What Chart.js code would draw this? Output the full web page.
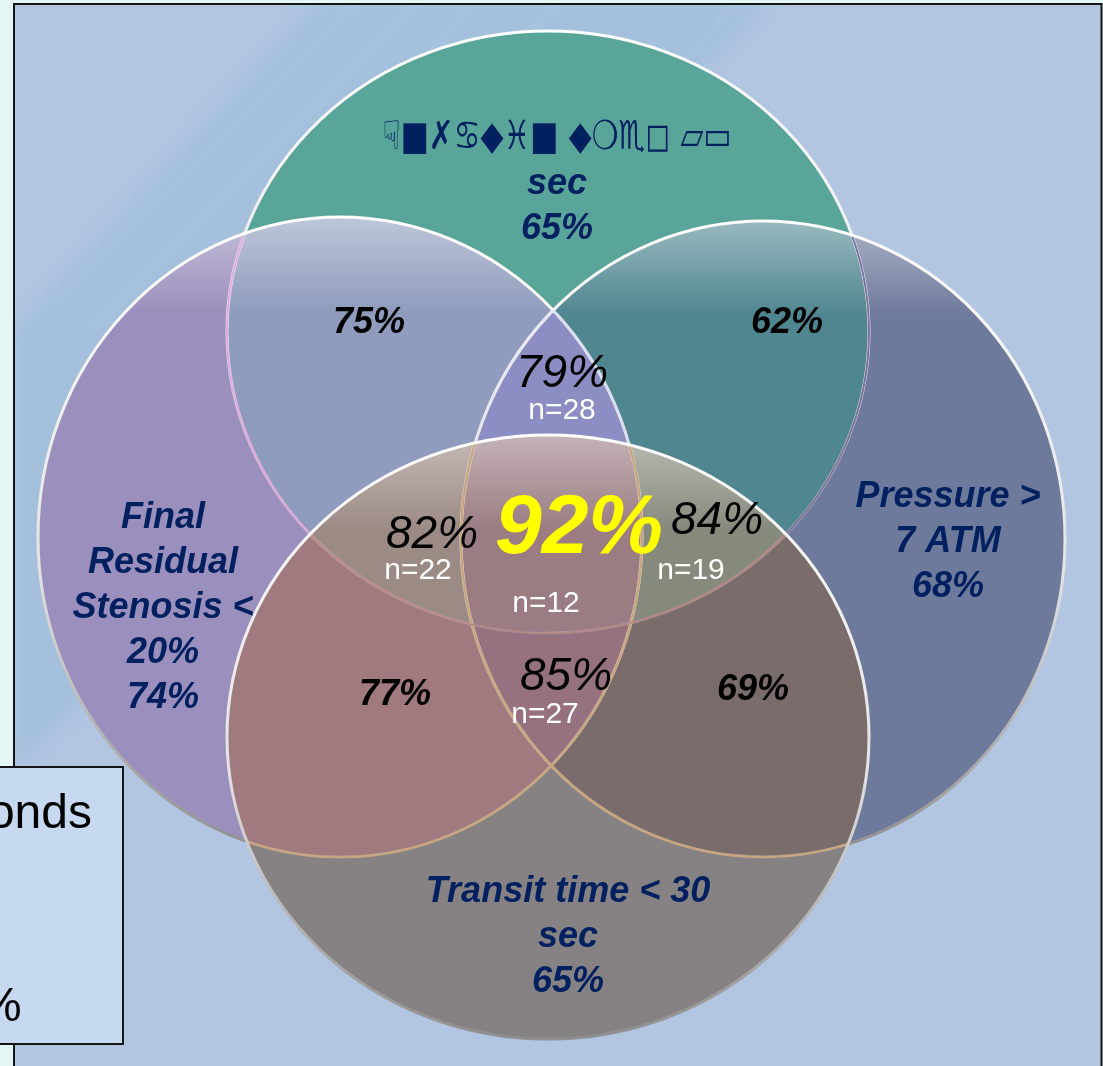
<!DOCTYPE html>
<html>
<head>
<meta charset="utf-8">
<title>Venn - stent criteria</title>
<script src="https://cdn.jsdelivr.net/npm/chart.js@4.4.1/dist/chart.umd.min.js"></script>
<style>
  html, body { margin: 0; padding: 0; background: #e5f6f7; }
  #wrap { position: relative; width: 1103px; height: 1066px; }
</style>
</head>
<body>
<div id="wrap"><canvas id="venn"></canvas></div>
<script>
//-------------------------- Venn data --------------------------//
// order of the sets : top, left, right, bottom
const setTitles = [
	['☟■✗♋◆♓■ ◆❍♏◻ ▱▭', 'sec'],
	['Final', 'Residual', 'Stenosis <', '20%'],
	['Pressure >', '7 ATM'],
	['Transit time < 30', 'sec']
];
const setPct = [65, 74, 68, 65];

// ellipse centres and half axes, in scale units (1 unit = 10 px)
const setCenterX = [54.8, 34.0, 76.3, 54.8];
const setCenterY = [33.2, 53.7, 53.9, 73.7];
const setRadiusX = [32.1, 30.2, 30.2, 32.1];
const setRadiusY = [30.1, 32.0, 31.8, 30.2];

// two-set overlaps : top+left, top+right, left+bottom, right+bottom
const pairPct = [75, 62, 77, 69];
// three-set overlaps : top+left+right, top+left+bottom, top+right+bottom, left+right+bottom
const triplePct = [79, 82, 84, 85];
const tripleN = [28, 22, 19, 27];
// all four
const allPct = 92;
const allN = 12;
//---------------------------------------------------------------//

//------------------------ Label layout -------------------------//
const titleAnchor = [[55.7, 14.9], [16.3, 52.8], [94.8, 50.7], [56.8, 90.2]];
const lineStep = 4.5;
const pairAnchor = [[36.9, 33.3], [78.7, 33.3], [39.5, 70.5], [75.3, 70.0]];
const triplePctAnchor = [[56.2, 38.7], [43.2, 54.8], [71.7, 53.4], [56.6, 69.0]];
const tripleNAnchor = [[56.2, 41.9], [41.8, 57.9], [69.1, 57.9], [54.5, 72.3]];
const allPctAnchor = [57.9, 55.3];
const allNAnchor = [54.6, 61.2];
//---------------------------------------------------------------//

//--------------------------- Styles ----------------------------//
// fill of each region, index = bit mask (1 top, 2 left, 4 right, 8 bottom)
const regionColors = {
	1: '#5aa59a', 2: '#9b90bd', 4: '#6e7a9c', 8: '#868183',
	3: '#8f9cbd', 5: '#4f8690', 6: '#8b8dc3', 7: '#8b8dc3',
	9: '#8a8a84', 10: '#a17a80', 12: '#7b6c6c', 14: '#967280',
	11: '#9c8a85', 13: '#868a7c', 15: '#9a7c82'
};
const SANS = '"Liberation Sans", Arial, sans-serif';
const NAVY = '#002060';
//---------------------------------------------------------------//

function ellipsePath(ctx, s){
	ctx.ellipse(s.x, s.y, s.rx, s.ry, 0, 0, Math.PI * 2);
}

function getShapes(chart){
	const meta = chart.getDatasetMeta(0);
	const xs = chart.scales.x, ys = chart.scales.y;
	return meta.data.map((pt, i) => ({
		x: pt.x,
		y: pt.y,
		rx: Math.abs(xs.getPixelForValue(setCenterX[i] + setRadiusX[i]) - pt.x),
		ry: Math.abs(ys.getPixelForValue(setCenterY[i] + setRadiusY[i]) - pt.y)
	}));
}

function rimGradient(ctx, s){
	const g = ctx.createLinearGradient(0, s.y - s.ry, 0, s.y + s.ry);
	g.addColorStop(0, '#ffffff');
	g.addColorStop(0.55, '#e4e4e4');
	g.addColorStop(1, '#8e8e8e');
	return g;
}

// slide background, frame, brush band and the cut off text box
const backdropPlugin = {
	id: 'backdrop',
	beforeDraw(chart){
		const ctx = chart.ctx;
		const w = chart.width, h = chart.height;
		ctx.save();
		ctx.fillStyle = '#e5f6f7';
		ctx.fillRect(0, 0, w, h);
		ctx.fillStyle = '#b2c6e2';
		ctx.fillRect(13, 3, w - 14, h);

		ctx.beginPath();
		ctx.rect(14, 4, w - 16, h);
		ctx.clip();
		ctx.filter = 'blur(10px)';
		ctx.fillStyle = 'rgba(150,186,214,0.5)';
		ctx.beginPath();
		ctx.moveTo(320, 0);
		ctx.lineTo(770, 0);
		ctx.lineTo(14, 770);
		ctx.lineTo(14, 330);
		ctx.closePath();
		ctx.fill();
		ctx.filter = 'blur(3px)';
		ctx.strokeStyle = 'rgba(205,222,238,0.3)';
		ctx.lineWidth = 3;
		[[360, 0, 60, 300], [420, 0, 90, 330], [470, 10, 150, 330], [560, 0, 200, 370], [740, 0, 640, 110]].forEach(l => {
			ctx.beginPath();
			ctx.moveTo(l[0], l[1]);
			ctx.lineTo(l[2], l[3]);
			ctx.stroke();
		});
		ctx.restore();

		ctx.save();
		ctx.strokeStyle = '#151515';
		ctx.lineWidth = 2;
		ctx.beginPath();
		ctx.moveTo(14, h + 5);
		ctx.lineTo(14, 4);
		ctx.lineTo(w - 1.5, 4);
		ctx.lineTo(w - 1.5, h + 5);
		ctx.stroke();

		ctx.fillStyle = '#c6d9f1';
		ctx.fillRect(-2, 767, 125, 277);
		ctx.strokeRect(-2, 767, 125, 277);
		ctx.fillStyle = '#000';
		ctx.font = '48px ' + SANS;
		ctx.textAlign = 'right';
		ctx.textBaseline = 'alphabetic';
		ctx.fillText('onds', 92, 828);
		ctx.textAlign = 'left';
		ctx.fillText('%', -21, 1021);
		ctx.restore();
	}
};

// ellipses : region fills, glass highlight, rims
const vennPlugin = {
	id: 'venn',
	afterDatasetsDraw(chart){
		const ctx = chart.ctx;
		const w = chart.width, h = chart.height;
		const shapes = getShapes(chart);

		for(let mask = 1; mask < 16; mask++){
			ctx.save();
			shapes.forEach((s, i) => {
				const inside = mask & (1 << i);
				ctx.beginPath();
				if(!inside) ctx.rect(-10, -10, w + 20, h + 20);
				ellipsePath(ctx, s);
				ctx.clip(inside ? 'nonzero' : 'evenodd');
			});
			ctx.fillStyle = regionColors[mask];
			ctx.fillRect(0, 0, w, h);
			ctx.restore();
		}

		// soft light along the top of left, right and bottom shapes
		[1, 2, 3].forEach(i => {
			const s = shapes[i];
			ctx.save();
			ctx.beginPath();
			ellipsePath(ctx, s);
			ctx.clip();
			const g = ctx.createLinearGradient(0, s.y - s.ry, 0, s.y - s.ry + 95);
			g.addColorStop(0, 'rgba(255,255,255,0.42)');
			g.addColorStop(1, 'rgba(255,255,255,0)');
			ctx.fillStyle = g;
			ctx.fillRect(s.x - s.rx, s.y - s.ry, s.rx * 2, 100);
			ctx.restore();
		});

		const T = shapes[0], L = shapes[1], R = shapes[2], B = shapes[3];
		const strokeIn = (s, clipShape, color, width) => {
			ctx.save();
			ctx.beginPath();
			ellipsePath(ctx, clipShape);
			ctx.clip();
			ctx.strokeStyle = color;
			ctx.lineWidth = width;
			ctx.beginPath();
			ellipsePath(ctx, s);
			ctx.stroke();
			ctx.restore();
		};
		const rim = (s) => {
			ctx.save();
			ctx.strokeStyle = rimGradient(ctx, s);
			ctx.lineWidth = 3;
			ctx.beginPath();
			ellipsePath(ctx, s);
			ctx.stroke();
			ctx.restore();
		};

		rim(T);
		strokeIn(T, L, '#e2a9e4', 2);
		strokeIn(T, R, '#7a74a0', 2);
		rim(L);
		rim(R);
		strokeIn(L, R, '#d9dcef', 2);
		strokeIn(R, L, '#e4e6f2', 2);
		strokeIn(L, B, '#caa67e', 2.5);
		strokeIn(R, B, '#caa67e', 2.5);
		strokeIn(T, B, '#b88a80', 2);
		rim(B);
	}
};

function drawText(chart, txt, ux, uy, font, color){
	const ctx = chart.ctx;
	const x = chart.scales.x.getPixelForValue(ux);
	const y = chart.scales.y.getPixelForValue(uy);
	ctx.save();
	ctx.font = font;
	ctx.fillStyle = color;
	ctx.textAlign = 'center';
	ctx.textBaseline = 'alphabetic';
	ctx.fillText(txt, x, y);
	ctx.restore();
}

// all texts and percentages
const labelPlugin = {
	id: 'vennLabels',
	afterDraw(chart){
		const ctx = chart.ctx;
		const bold = 'italic bold 36px ' + SANS;

		setTitles.forEach((lines, i) => {
			const a = titleAnchor[i];
			const all = lines.concat([setPct[i] + '%']);
			all.forEach((line, k) => {
				if(i === 0 && k === 0){
					// symbol line of the top set
					const x = chart.scales.x.getPixelForValue(a[0]);
					const y = chart.scales.y.getPixelForValue(a[1]);
					ctx.save();
					ctx.font = 'bold 40px "DejaVu Sans", sans-serif';
					const tw = ctx.measureText(line).width;
					ctx.translate(x, y);
					ctx.scale(349 / tw, 1);
					ctx.fillStyle = NAVY;
					ctx.textAlign = 'center';
					ctx.fillText(line, 0, 0);
					ctx.restore();
				}
				else{
					drawText(chart, line, a[0], a[1] + k * lineStep, bold, NAVY);
				}
			});
		});

		pairPct.forEach((v, i) => {
			drawText(chart, v + '%', pairAnchor[i][0], pairAnchor[i][1], bold, '#000');
		});

		triplePct.forEach((v, i) => {
			drawText(chart, v + '%', triplePctAnchor[i][0], triplePctAnchor[i][1], 'italic 46px ' + SANS, '#000');
			drawText(chart, 'n=' + tripleN[i], tripleNAnchor[i][0], tripleNAnchor[i][1], '30px ' + SANS, '#fff');
		});

		drawText(chart, allPct + '%', allPctAnchor[0], allPctAnchor[1], 'italic bold 84px ' + SANS, '#ffff00');
		drawText(chart, 'n=' + allN, allNAnchor[0], allNAnchor[1], '30px ' + SANS, '#fff');
	}
};

//----------------------- Chart's creation ----------------------//
const vennChart = new Chart(document.getElementById('venn'), {
	type: 'scatter',
	data: {
		datasets: [{
			data: setCenterX.map((x, i) => ({x: x, y: setCenterY[i]})),
			pointRadius: 0,
			pointHoverRadius: 0
		}]
	},
	options: {
		responsive: true,
		maintainAspectRatio: false,
		animation: false,
		events: [],
		layout: {padding: 0},
		plugins: {
			legend: {display: false},
			tooltip: {enabled: false}
		},
		scales: {
			x: {type: 'linear', min: 0, max: 110.3, display: false},
			y: {type: 'linear', min: 0, max: 106.6, reverse: true, display: false}
		}
	},
	plugins: [backdropPlugin, vennPlugin, labelPlugin]
});
//---------------------------------------------------------------//
</script>
</body>
</html>
